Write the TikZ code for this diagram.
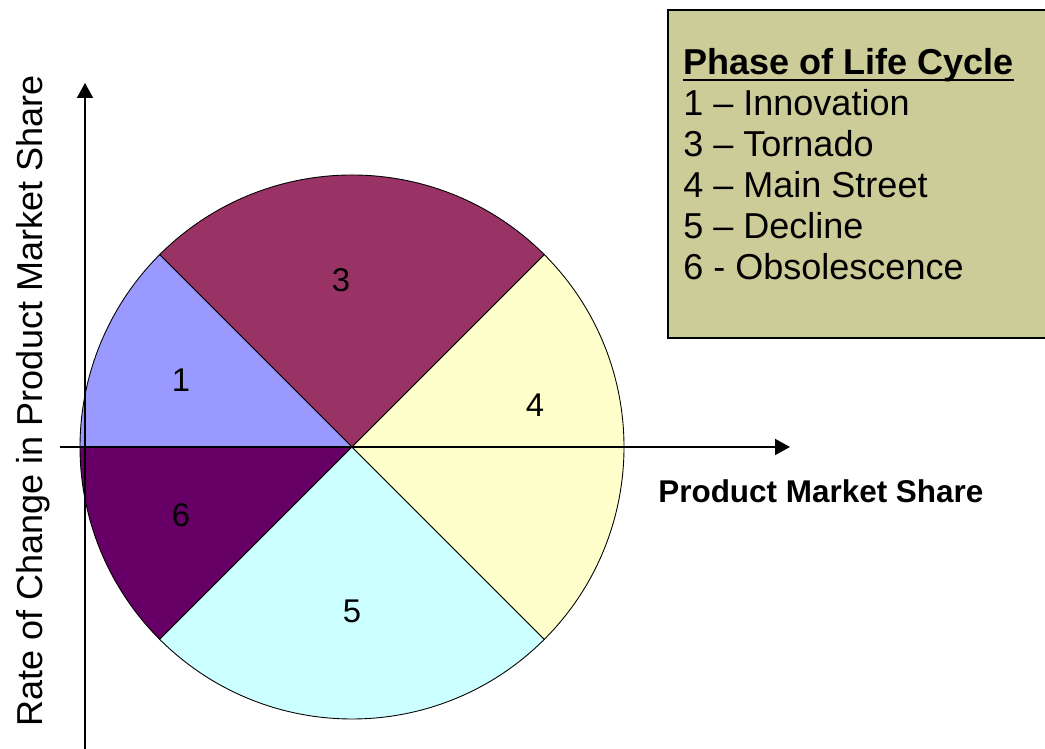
\documentclass[tikz,border=0pt]{standalone}
\usepackage{fontspec}
\setmainfont{Liberation Sans}
\usetikzlibrary{arrows.meta,calc}
\definecolor{innovation}{HTML}{9999FF}
\definecolor{tornado}{HTML}{993366}
\definecolor{mainstreet}{HTML}{FFFFCC}
\definecolor{decline}{HTML}{CCFFFF}
\definecolor{obsolete}{HTML}{660066}
\definecolor{legendbg}{HTML}{CCCC99}

\begin{document}
\begin{tikzpicture}[x=0.02cm,y=0.02cm,>={Triangle[length=0.3cm,width=0.32cm]},
    sector/.style={draw=black,line width=0.5pt},
    phasenum/.style={font=\fontsize{18.7}{22}\selectfont},
    labeltext/.style={font=\fontsize{20.5}{23}\selectfont,inner sep=0pt}]
      \useasboundingbox (0,0) rectangle (1045,749);
      \coordinate (O) at (352,302);
      % the five phases as sectors of one disc
      \filldraw[sector,fill=tornado] (O) -- ++(45:272) arc[start angle=45,end angle=135,radius=272] -- cycle;
      \filldraw[sector,fill=innovation] (O) -- ++(135:272) arc[start angle=135,end angle=180,radius=272] -- cycle;
      \filldraw[sector,fill=obsolete] (O) -- ++(180:272) arc[start angle=180,end angle=225,radius=272] -- cycle;
      \filldraw[sector,fill=decline] (O) -- ++(225:272) arc[start angle=225,end angle=315,radius=272] -- cycle;
      \filldraw[sector,fill=mainstreet] (O) -- ++(-45:272) arc[start angle=-45,end angle=45,radius=272] -- cycle;
      \node[phasenum] (n3) at (341,469) {3};
      \node[phasenum] (n1) at (181,369) {1};
      \node[phasenum] (n4) at (535,344) {4};
      \node[phasenum] (n6) at (181,234) {6};
      \node[phasenum] (n5) at (352,138) {5};
      % axes
      \coordinate (xs) at (60,302);
      \coordinate (xe) at (790,302);
      \coordinate (ys) at (85,0);
      \coordinate (ye) at (85,666);
      \draw[->,line width=1.1pt] (xs) -- (xe);
      \draw[->,line width=1.1pt] (ys) -- (ye);
      \node[font=\fontsize{17.9}{21}\selectfont\bfseries,inner sep=0pt,anchor=base west] (xlabel) at (658,246) {Product Market Share};
      \node[labeltext,rotate=90,anchor=base] (ylabel) at (42,348) {Rate of Change in Product Market Share};
      % legend
      \filldraw[fill=legendbg,line width=1.1pt] (668,411) rectangle (1060,739);
      \node[labeltext,anchor=base west] (title) at (683,674) {\bfseries Phase of Life Cycle};
      \draw[line width=1.4pt] ($(title.base west)+(0,-5)$) -- ($(title.base east)+(0,-5)$);
      \foreach \txt [count=\k] in {1 -- Innovation, 3 -- Tornado, 4 -- Main Street, 5 -- Decline, 6 - Obsolescence}
        \node[labeltext,anchor=base west] (phase\k) at (683,674-41*\k) {\txt};
    \end{tikzpicture}
\end{document}
